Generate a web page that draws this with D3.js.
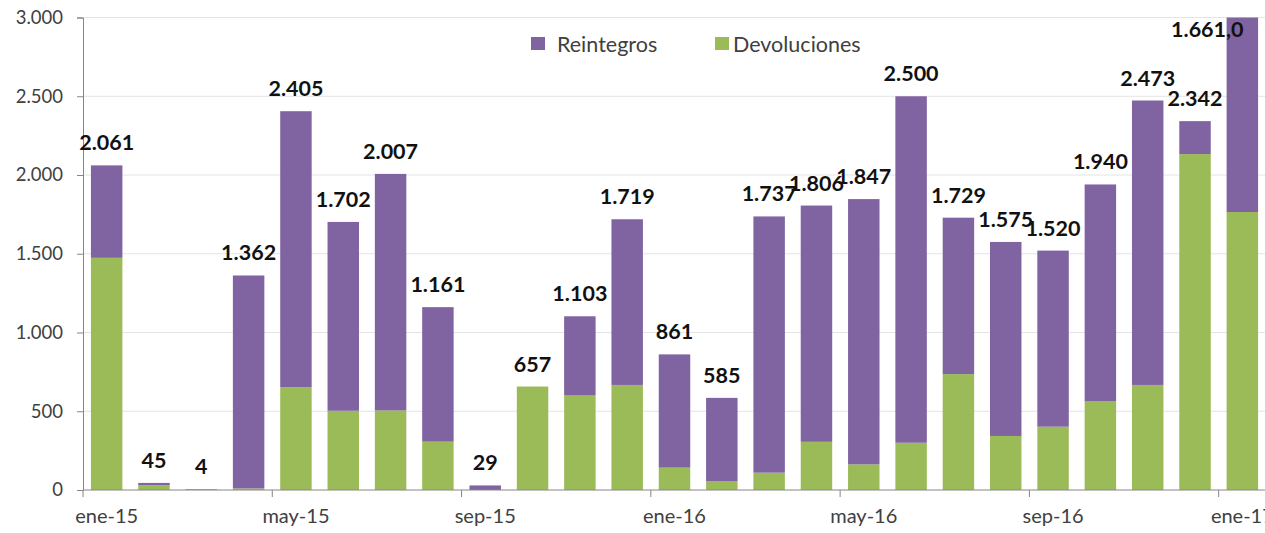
<!DOCTYPE html>
<html>
<head>
<meta charset="utf-8">
<script src="https://cdn.jsdelivr.net/npm/d3@7"></script>
<style>
  body { margin: 0; background: #fff; }
  svg { display: block; font-family: Lato, "Open Sans", sans-serif; }
</style>
</head>
<body>
<div id="chart"></div>
<script>
// monthly data, ene-15 .. ene-17
const meses = ["ene-15","feb-15","mar-15","abr-15","may-15","jun-15","jul-15","ago-15","sep-15","oct-15","nov-15","dic-15",
               "ene-16","feb-16","mar-16","abr-16","may-16","jun-16","jul-16","ago-16","sep-16","oct-16","nov-16","dic-16","ene-17"];
const devoluciones = [1474, 30, 0, 10, 652, 503, 505, 307, 0, 657, 600, 667,
                      142, 57, 110, 306, 163, 300, 736, 343, 402, 565, 667, 2133, 1765];
const reintegros = [587, 15, 4, 1352, 1753, 1199, 1502, 854, 29, 0, 503, 1052,
                    719, 528, 1627, 1500, 1684, 2200, 993, 1232, 1118, 1375, 1806, 209, 1661];
const etiquetas = ["2.061","45","4","1.362","2.405","1.702","2.007","1.161","29","657","1.103","1.719",
                   "861","585","1.737","1.806","1.847","2.500","1.729","1.575","1.520","1.940","2.473","2.342","1.661,0"];
const ejeX = ["ene-15","may-15","sep-15","ene-16","may-16","sep-16","ene-17"];
const ticksY = [0, 500, 1000, 1500, 2000, 2500, 3000];

const width = 1265, height = 533;
const margin = {top: 17.5, right: 0, bottom: 43, left: 83};

const svg = d3.select("#chart").append("svg")
  .attr("width", width)
  .attr("height", height);

const x = d3.scaleBand()
  .domain(meses)
  .range([margin.left, margin.left + 25 * 47.32])
  .paddingInner(0.335)
  .paddingOuter(0.1675);

const y = d3.scaleLinear()
  .domain([0, 3000])
  .range([height - margin.bottom, margin.top]);

// gridlines
svg.append("g")
  .selectAll("line")
  .data(ticksY.slice(1))
  .enter().append("line")
    .attr("x1", margin.left)
    .attr("x2", width)
    .attr("y1", d => y(d))
    .attr("y2", d => y(d))
    .attr("stroke", "#e4e4e4")
    .attr("stroke-width", 1);

// clip so the last bar is cut at 3.000
svg.append("clipPath").attr("id", "plot")
  .append("rect")
    .attr("x", margin.left).attr("y", y(3000))
    .attr("width", width - margin.left).attr("height", y(0) - y(3000));

const series = [
  {name: "Devoluciones", values: devoluciones, color: "#9BBB59"},
  {name: "Reintegros", values: reintegros, color: "#8064A2"}
];

const bars = svg.append("g").attr("clip-path", "url(#plot)");
meses.forEach((m, i) => {
  let base = 0;
  series.forEach(s => {
    const v = s.values[i];
    if (v > 0) {
      bars.append("rect")
        .attr("x", x(m))
        .attr("width", x.bandwidth())
        .attr("y", y(base + v))
        .attr("height", y(base) - y(base + v))
        .attr("fill", s.color);
    }
    base += v;
  });
});

// y axis
const yAxis = svg.append("g")
  .attr("transform", `translate(${margin.left},0)`)
  .call(d3.axisLeft(y).tickValues(ticksY).tickSize(6).tickPadding(14)
    .tickFormat(d => d3.format(",")(d).replace(/,/g, ".")));
yAxis.selectAll("line, path").attr("stroke", "#868686");
yAxis.selectAll("text").attr("font-size", "18.5px").attr("fill", "#404040")
  .attr("font-family", "Lato, sans-serif");

// x axis: ticks at band start every 4 months, labels centered on the band
const xAxis = svg.append("g").attr("transform", `translate(0,${y(0)})`);
xAxis.append("line")
  .attr("x1", margin.left).attr("x2", width)
  .attr("stroke", "#868686");
xAxis.selectAll(".tk")
  .data(ejeX)
  .enter().append("line")
    .attr("x1", d => x(d) - x.step() * x.paddingOuter())
    .attr("x2", d => x(d) - x.step() * x.paddingOuter())
    .attr("y1", 0).attr("y2", 7)
    .attr("stroke", "#868686");
xAxis.selectAll("text")
  .data(ejeX)
  .enter().append("text")
    .attr("x", d => x(d) + x.bandwidth() / 2)
    .attr("y", 33)
    .attr("text-anchor", "middle")
    .attr("font-size", "20px")
    .attr("fill", "#404040")
    .text(d => d);

// data labels above each bar
const totales = meses.map((m, i) => devoluciones[i] + reintegros[i]);
svg.append("g")
  .selectAll("text")
  .data(meses)
  .enter().append("text")
    .attr("x", (d, i) => i === 24 ? x(d) + x.bandwidth() / 2 - 35 : x(d) + x.bandwidth() / 2)
    .attr("y", (d, i) => i === 24 ? 37 : y(totales[i]) - 15)
    .attr("text-anchor", "middle")
    .attr("font-size", "21.5px")
    .attr("font-weight", "bold")
    .attr("fill", "#111")
    .text((d, i) => etiquetas[i]);

// legend
const legend = svg.append("g");
[{name: "Reintegros", color: "#8064A2", lx: 531, tx: 557},
 {name: "Devoluciones", color: "#9BBB59", lx: 715, tx: 733}]
  .forEach(s => {
    legend.append("rect")
      .attr("x", s.lx).attr("y", 37)
      .attr("width", 14).attr("height", 13)
      .attr("fill", s.color);
    legend.append("text")
      .attr("x", s.tx).attr("y", 52)
      .attr("font-size", "21.5px")
      .attr("fill", "#404040")
      .text(s.name);
  });
</script>
</body>
</html>
